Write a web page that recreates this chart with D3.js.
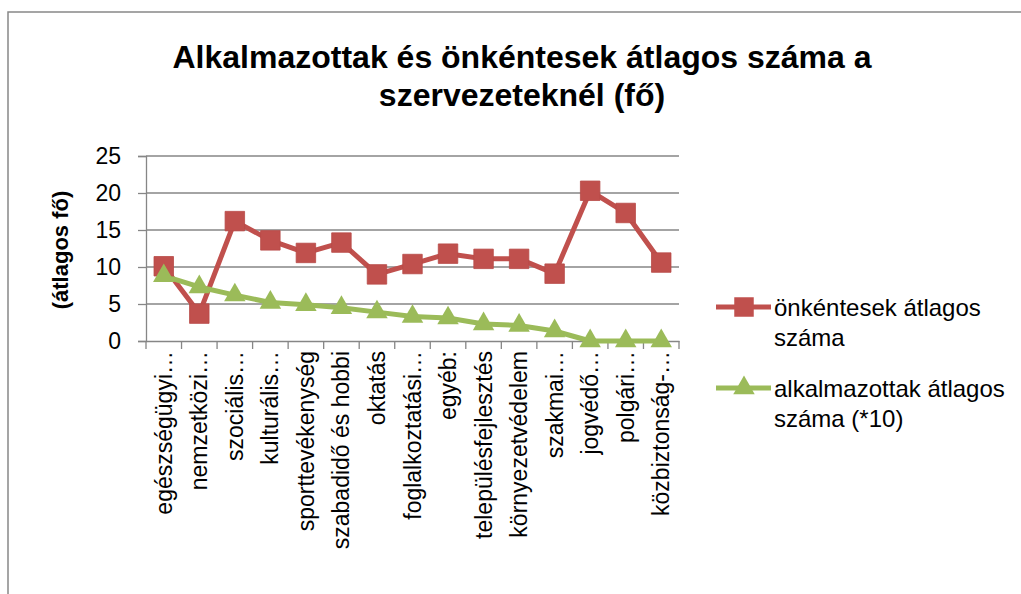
<!DOCTYPE html>
<html>
<head>
<meta charset="utf-8">
<script src="https://cdn.jsdelivr.net/npm/d3@7"></script>
<style>
  html, body { margin: 0; padding: 0; background: #fff; }
  svg { display: block; }
  text { font-family: "Liberation Sans", Arial, sans-serif; fill: #000; }
</style>
</head>
<body>
<svg id="chart" width="1021" height="594"></svg>
<script>
const categories = ["egészségügyi…", "nemzetközi…", "szociális…", "kulturális…", "sporttevékenység",
  "szabadidő és hobbi", "oktatás", "foglalkoztatási…", "egyéb:", "településfejlesztés",
  "környezetvédelem", "szakmai…", "jogvédő…", "polgári…", "közbiztonság-…"];
const volunteers = [10.1, 3.7, 16.2, 13.6, 11.9, 13.3, 9.0, 10.4, 11.8, 11.1, 11.1, 9.1, 20.3, 17.3, 10.6];
const employees = [8.8, 7.3, 6.2, 5.2, 4.9, 4.5, 3.9, 3.3, 3.1, 2.3, 2.1, 1.35, 0, 0, 0];
const yTicks = [0, 5, 10, 15, 20, 25];
const seriesNames = ["önkéntesek átlagos száma", "alkalmazottak átlagos száma (*10)"];
const legendLines = [["önkéntesek átlagos", "száma"], ["alkalmazottak átlagos", "száma (*10)"]];
const titleLines = ["Alkalmazottak és önkéntesek átlagos száma a", "szervezeteknél (fő)"];
const yTitle = "(átlagos fő)";

const RED = "#C0504D", GREEN = "#9BBB59", GRID = "#868686";
const FONT = "Liberation Sans, Arial, sans-serif";
const svg = d3.select("#chart");

// outer chart border (extends past viewport)
svg.append("rect").attr("x", 8).attr("y", 12).attr("width", 1100).attr("height", 700)
  .attr("fill", "none").attr("stroke", "#888").attr("stroke-width", 1.5);

// title
svg.append("g").selectAll("text").data(titleLines).join("text")
  .attr("x", 522).attr("y", (d, i) => 68 + i * 37.5)
  .attr("text-anchor", "middle").attr("font-weight", "bold").attr("font-size", 32)
  .text(d => d);

const L = 146, R = 679, T = 156, B = 341;
const x = d3.scaleBand().domain(categories).range([L, R]).padding(0);
const y = d3.scaleLinear().domain([0, 25]).range([B, T]);
const cx = d => x(d) + x.bandwidth() / 2;

// gridlines
svg.append("g").selectAll("line").data(yTicks.filter(t => t > 0)).join("line")
  .attr("x1", L).attr("x2", R).attr("y1", d => y(d)).attr("y2", d => y(d))
  .attr("stroke", GRID).attr("stroke-width", 1.3);

// y axis
const yAxis = svg.append("g").attr("transform", `translate(${L},0)`)
  .call(d3.axisLeft(y).tickValues(yTicks).tickSize(8).tickPadding(17));
yAxis.attr("font-size", 23).attr("font-family", FONT);
yAxis.select(".domain").attr("stroke", GRID).attr("stroke-width", 1.3);
yAxis.selectAll(".tick line").attr("stroke", GRID).attr("stroke-width", 1.3);
yAxis.selectAll(".tick text").attr("fill", "#000");

// x axis
const xAxis = svg.append("g").attr("transform", `translate(0,${B})`)
  .call(d3.axisBottom(x).tickSize(0).tickFormat(d => d));
xAxis.attr("font-size", 23).attr("font-family", FONT);
xAxis.select(".domain").attr("stroke", GRID).attr("stroke-width", 1.3);
xAxis.selectAll(".tick text")
  .attr("fill", "#000")
  .attr("text-anchor", "end").attr("dy", "0.35em")
  .attr("transform", "translate(0,10) rotate(-90)")
  .attr("x", 0).attr("y", 0);
// boundary tick marks
const bounds = categories.map(c => x(c)).concat([R]);
svg.append("g").selectAll("line").data(bounds).join("line")
  .attr("x1", d => d).attr("x2", d => d).attr("y1", B).attr("y2", B + 8)
  .attr("stroke", GRID).attr("stroke-width", 1.3);

// y title
svg.append("text").attr("transform", `translate(68,250) rotate(-90)`)
  .attr("text-anchor", "middle").attr("font-weight", "bold").attr("font-size", 22)
  .text(yTitle);

// lines
const line = d3.line().x((d, i) => cx(categories[i])).y(d => y(d));
svg.append("path").datum(volunteers).attr("d", line).attr("fill", "none")
  .attr("stroke", RED).attr("stroke-width", 5).attr("stroke-linejoin", "round");
svg.append("path").datum(employees).attr("d", line).attr("fill", "none")
  .attr("stroke", GREEN).attr("stroke-width", 5).attr("stroke-linejoin", "round");

const sq = d3.symbol().type(d3.symbolSquare).size(380);
const tri = d3.symbol().type(d3.symbolTriangle).size(200);

svg.append("g").selectAll("path").data(volunteers).join("path")
  .attr("d", sq).attr("transform", (d, i) => `translate(${cx(categories[i])},${y(d)})`)
  .attr("fill", RED).attr("stroke", "#b84a47").attr("stroke-width", 0.8);
svg.append("g").selectAll("path").data(employees).join("path")
  .attr("d", tri).attr("transform", (d, i) => `translate(${cx(categories[i])},${y(d)})`)
  .attr("fill", GREEN);

// legend
const legY = [307, 388];
const leg = svg.append("g").selectAll("g").data(seriesNames).join("g")
  .attr("transform", (d, i) => `translate(0,${legY[i]})`);
leg.append("line").attr("x1", 716).attr("x2", 771).attr("y1", 0).attr("y2", 0)
  .attr("stroke", (d, i) => i === 0 ? RED : GREEN).attr("stroke-width", 5);
leg.append("path").attr("d", (d, i) => i === 0 ? sq() : tri())
  .attr("transform", "translate(744,0)")
  .attr("fill", (d, i) => i === 0 ? RED : GREEN);
leg.each(function(d, i) {
  d3.select(this).selectAll("text").data(legendLines[i]).join("text")
    .attr("x", 774).attr("y", (t, j) => 9 + j * 30)
    .attr("font-size", 24).text(t => t);
});
</script>
</body>
</html>
